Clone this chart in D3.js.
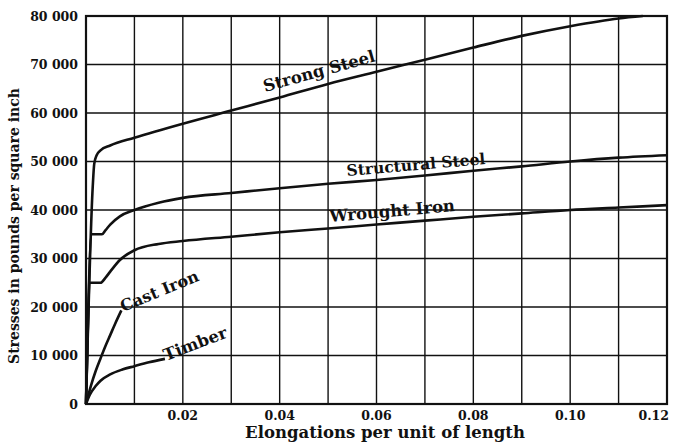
<!DOCTYPE html>
<html><head><meta charset="utf-8">
<script src="https://cdn.jsdelivr.net/npm/d3@7"></script>
<style>body{margin:0;background:#fff}svg{display:block}text{font-family:"DejaVu Serif",serif;font-weight:bold;fill:#111}</style>
</head><body><svg id="c" width="683" height="444"></svg>
<script>
const xTicks = [0.02,0.04,0.06,0.08,0.10,0.12];
const xTickLabels = ["0.02","0.04","0.06","0.08","0.10","0.12"];
const yTicks = [0,10000,20000,30000,40000,50000,60000,70000,80000];
const yTickLabels = ["0","10 000","20 000","30 000","40 000","50 000","60 000","70 000","80 000"];
const xGrid = d3.range(1,12).map(i=>i*0.01);

const seriesNames = ["Strong Steel","Structural Steel","Wrought Iron","Cast Iron","Timber"];
const strongSteel = [[0,0],[0.0014,45000],[0.0017,49500],[0.0022,51300],[0.003,52300],[0.005,53300],[0.01,54900],[0.02,57800],[0.03,60500],[0.04,63200],[0.05,66000],[0.06,68500],[0.07,71000],[0.08,73500],[0.09,75900],[0.10,77900],[0.11,79500],[0.115,80000]];
const structuralSteel = [[0,0],[0.0012,35000],[0.0033,35000],[0.004,35800],[0.005,37000],[0.007,38700],[0.01,40000],[0.015,41500],[0.02,42500],[0.03,43500],[0.04,44500],[0.05,45400],[0.06,46200],[0.07,47100],[0.08,48100],[0.09,49000],[0.10,50000],[0.11,50800],[0.12,51300]];
const wroughtIron = [[0,0],[0.0009,25000],[0.003,25000],[0.004,26000],[0.005,27300],[0.007,29700],[0.01,31700],[0.015,33000],[0.02,33600],[0.03,34500],[0.04,35400],[0.05,36200],[0.06,37000],[0.07,37800],[0.08,38600],[0.09,39300],[0.10,40000],[0.11,40500],[0.12,41000]];
const castIron = [[0,0],[0.001,3700],[0.002,6800],[0.003,9400],[0.004,11900],[0.005,14200],[0.006,16500],[0.0073,19300]];
const timber = [[0,0],[0.0008,1900],[0.002,3700],[0.003,4800],[0.005,6100],[0.0075,7100],[0.01,7800],[0.013,8600],[0.0163,9300]];
const seriesData = [strongSteel, structuralSteel, wroughtIron, castIron, timber];

// label placement (left baseline point in px, rotation in degrees, font size)
const labelLayout = [
  {px:265, py:92, rot:-15.5, fs:16.5},
  {px:347, py:176, rot:-4.9, fs:15.5},
  {px:330, py:222, rot:-5, fs:16.5},
  {px:123, py:312, rot:-22.4, fs:16},
  {px:166, py:361, rot:-21, fs:16.5}
];

const svg = d3.select("#c");
const L=86,R=667,T=16,B=404;
const x = d3.scaleLinear().domain([0,0.12]).range([L,R]);
const y = d3.scaleLinear().domain([0,80000]).range([B,T]);

const g = svg.append("g");
g.selectAll(".vg").data(xGrid).join("line").attr("x1",d=>x(d)).attr("x2",d=>x(d)).attr("y1",T).attr("y2",B).attr("stroke","#111").attr("stroke-width",1.4);
g.selectAll(".hg").data(yTicks.slice(1,-1)).join("line").attr("x1",L).attr("x2",R).attr("y1",d=>y(d)).attr("y2",d=>y(d)).attr("stroke","#111").attr("stroke-width",1.4);
g.append("rect").attr("x",L).attr("y",T).attr("width",R-L).attr("height",B-T).attr("fill","none").attr("stroke","#111").attr("stroke-width",2.2);

const line = d3.line().x(d=>x(d[0])).y(d=>y(d[1])).curve(d3.curveMonotoneX);
svg.selectAll(".s").data(seriesData).join("path").attr("d",d=>line(d)).attr("fill","none").attr("stroke","#111").attr("stroke-width",2.6).attr("stroke-linejoin","round");

svg.selectAll(".lab").data(seriesNames).join("text")
  .attr("transform",(d,i)=>`translate(${labelLayout[i].px},${labelLayout[i].py}) rotate(${labelLayout[i].rot})`)
  .attr("text-anchor","start").attr("font-size",(d,i)=>labelLayout[i].fs).text(d=>d);

svg.selectAll(".yt").data(yTicks).join("text").attr("x",78).attr("y",d=>y(d)+4.5).attr("text-anchor","end").attr("font-size",12.5).text((d,i)=>yTickLabels[i]);
svg.selectAll(".xt").data(xTicks).join("text").attr("x",(d,i)=>i===xTicks.length-1?x(d)+2:x(d)).attr("y",420).attr("text-anchor",(d,i)=>i===xTicks.length-1?"end":"middle").attr("font-size",12.5).text((d,i)=>xTickLabels[i]);

svg.append("text").attr("x",385).attr("y",438).attr("text-anchor","middle").attr("font-size",16.5).text("Elongations per unit of length");
svg.append("text").attr("transform","translate(19,226) rotate(-90)").attr("text-anchor","middle").attr("font-size",14).text("Stresses in pounds per square inch");
</script></body></html>
